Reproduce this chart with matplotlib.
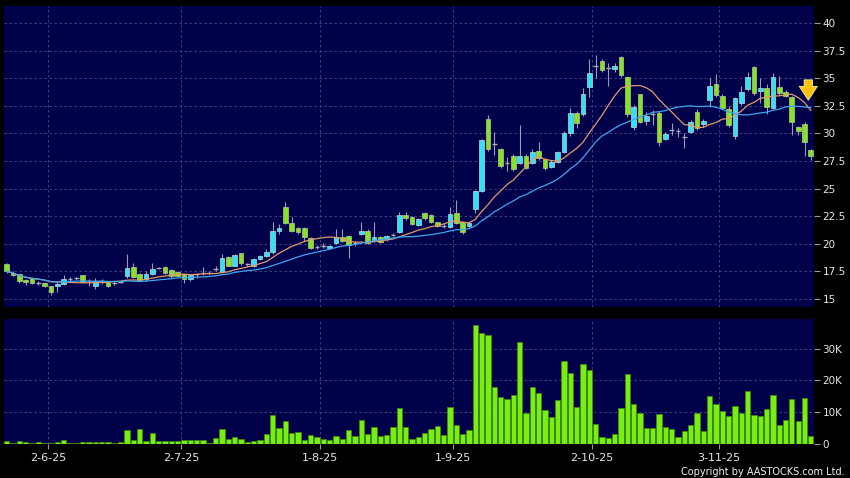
import numpy as np
import pandas as pd
import matplotlib
matplotlib.use("Agg")
import matplotlib.pyplot as plt

# daily OHLC (HK$), oldest first
opens = [18.2, 17.4, 17.26, 16.75, 16.9, 16.45, 16.42, 16.15, 16.2, 16.35,
         16.8, 16.9, 17.17, 16.6, 16.2, 16.65, 16.5, 16.45, 16.55, 17.09,
         17.87, 17.24, 16.78, 17.24, 17.78, 17.87, 17.63, 17.48, 17.24, 16.81,
         17.24, 17.39, 17.39, 17.69, 17.42, 18.78, 18.02, 19.14, 18.14, 18.02,
         18.59, 18.89, 19.23, 21.16, 23.31, 21.86, 21.4, 21.4, 20.55, 19.68,
         19.83, 19.59, 20.1, 20.64, 20.73, 20.04, 20.86, 21.2, 20.28, 20.59,
         20.4, 20.8, 21.1, 22.61, 22.46, 21.71, 22.76, 22.61, 21.95, 21.64,
         21.52, 22.83, 22.0, 21.6, 23.12, 24.78, 31.35, 29.0, 28.6, 27.35,
         27.98, 27.3, 28.0, 27.3, 28.44, 27.68, 27.0, 27.45, 28.29, 30.01,
         31.88, 31.76, 34.2, 36.1, 36.56, 35.9, 35.8, 36.95, 35.08, 30.6,
         33.54, 31.12, 31.8, 31.82, 29.52, 30.31, 30.25, 29.64, 30.1, 31.91,
         30.82, 33.03, 34.44, 33.42, 32.18, 29.8, 32.73, 33.99, 35.99, 33.87,
         34.14, 32.33, 34.23, 33.72, 33.27, 30.55, 30.85, 28.5]
highs = [18.3, 17.5, 17.3, 16.8, 16.95, 16.65, 16.5, 16.2, 16.6, 17.2,
         17.0, 17.0, 17.2, 16.85, 16.95, 16.8, 16.6, 16.6, 16.7, 19.08,
         18.3, 17.4, 17.5, 18.23, 17.9, 18.0, 17.7, 17.55, 17.3, 17.25,
         17.4, 17.9, 17.5, 18.0, 19.1, 18.9, 19.1, 19.2, 18.3, 18.7,
         18.95, 19.5, 22.0, 21.8, 23.76, 22.4, 21.5, 21.5, 20.6, 19.85,
         20.1, 19.9, 21.34, 21.3, 20.8, 20.3, 21.99, 21.3, 22.0, 20.7,
         20.8, 21.0, 22.9, 22.9, 22.5, 22.3, 22.9, 22.7, 22.0, 21.9,
         23.36, 23.97, 22.1, 21.9, 24.9, 29.5, 31.66, 30.1, 28.7, 27.9,
         28.1, 30.76, 28.1, 28.6, 29.25, 27.8, 27.6, 28.4, 30.2, 32.3,
         32.0, 34.1, 36.7, 37.1, 36.7, 36.4, 36.4, 37.0, 35.2, 32.6,
         33.6, 31.9, 32.1, 32.0, 30.1, 30.9, 30.5, 30.0, 31.2, 32.2,
         31.3, 35.0, 35.4, 33.6, 32.5, 33.3, 34.3, 35.6, 36.1, 35.0,
         34.5, 35.5, 35.2, 33.9, 33.4, 30.7, 31.0, 28.6]
lows = [17.4, 17.1, 16.45, 16.3, 16.4, 16.25, 16.1, 15.4, 15.6, 16.3,
        16.5, 16.7, 16.5, 16.15, 15.9, 16.4, 16.1, 16.3, 16.45, 16.95,
        16.9, 16.65, 16.6, 17.2, 17.7, 17.3, 16.9, 17.05, 16.42, 16.6,
        16.9, 17.2, 17.3, 17.5, 17.35, 17.95, 17.95, 18.1, 18.0, 17.9,
        18.5, 18.8, 19.1, 20.9, 21.8, 21.1, 20.9, 20.3, 19.5, 19.55,
        19.6, 19.5, 20.0, 20.2, 18.69, 19.8, 20.8, 20.0, 20.2, 20.1,
        20.3, 20.7, 21.0, 22.2, 21.7, 21.6, 22.2, 21.9, 21.5, 21.4,
        21.4, 21.8, 20.9, 21.5, 22.8, 24.7, 28.4, 28.04, 26.9, 26.6,
        26.6, 27.2, 26.8, 27.2, 27.6, 26.7, 26.9, 27.3, 28.2, 29.8,
        30.5, 31.6, 33.3, 35.0, 35.6, 34.3, 35.6, 35.1, 31.5, 30.3,
        30.9, 30.8, 30.8, 28.9, 29.4, 29.9, 29.7, 28.7, 30.0, 30.3,
        30.6, 32.4, 33.3, 32.2, 30.6, 29.5, 32.6, 33.8, 33.5, 32.8,
        31.8, 32.2, 33.5, 33.3, 29.9, 29.9, 28.0, 27.6]
closes = [17.5, 17.2, 16.66, 16.57, 16.45, 16.45, 16.15, 15.6, 16.4, 16.8,
          16.8, 16.9, 16.57, 16.6, 16.6, 16.65, 16.2, 16.45, 16.55, 17.78,
          16.97, 16.76, 17.24, 17.72, 17.78, 17.33, 17.11, 17.11, 16.81, 17.18,
          17.24, 17.39, 17.39, 17.69, 18.74, 18.02, 18.99, 18.23, 18.14, 18.59,
          18.89, 19.23, 21.16, 21.4, 21.86, 21.2, 21.04, 20.64, 19.59, 19.68,
          19.83, 19.83, 20.64, 20.28, 19.89, 20.04, 21.16, 20.1, 20.59, 20.2,
          20.7, 20.8, 22.61, 22.3, 21.77, 22.25, 22.31, 22.0, 21.6, 21.64,
          22.67, 21.92, 21.04, 21.86, 24.78, 29.37, 28.57, 29.0, 27.05, 27.35,
          26.77, 28.0, 26.9, 28.29, 27.75, 26.9, 27.45, 28.29, 30.01, 31.88,
          30.92, 33.54, 35.45, 36.1, 35.74, 35.9, 36.1, 35.3, 31.8, 32.36,
          31.06, 31.6, 31.8, 29.25, 29.95, 30.31, 30.25, 29.64, 31.06, 30.46,
          31.12, 34.29, 33.48, 32.27, 30.76, 33.18, 33.78, 35.08, 33.63, 34.14,
          32.36, 35.14, 33.69, 33.42, 31.06, 30.25, 29.25, 27.95]
# volume in thousands of shares
volumes = [1.0, 0.4, 1.0, 0.6, 0.4, 0.5, 0.4, 0.2, 0.5, 1.3,
           0.4, 0.4, 0.7, 0.7, 0.7, 0.5, 0.7, 0.4, 0.7, 4.5,
           1.4, 4.8, 0.9, 3.6, 1.0, 1.0, 1.0, 1.0, 1.3, 1.3,
           1.3, 1.3, 0.4, 1.8, 4.7, 1.6, 2.1, 1.7, 0.7, 0.9,
           1.2, 3.1, 9.2, 4.9, 7.1, 3.6, 3.9, 1.2, 2.9, 2.1,
           1.7, 1.2, 2.6, 1.6, 4.3, 2.6, 7.4, 3.2, 5.3, 2.6,
           2.8, 5.5, 11.2, 5.4, 1.6, 2.3, 3.5, 4.8, 5.8, 2.8,
           11.5, 5.9, 3.2, 4.3, 37.4, 35.0, 34.3, 18.0, 14.8, 14.0,
           15.4, 32.2, 9.6, 17.9, 16.0, 10.6, 8.4, 13.7, 26.2, 22.4,
           11.6, 25.2, 23.3, 6.2, 2.1, 1.8, 3.3, 11.4, 22.0, 12.5,
           9.9, 4.9, 4.9, 9.3, 5.5, 4.8, 2.3, 4.2, 6.1, 9.8,
           4.2, 15.0, 12.5, 10.5, 8.7, 11.9, 9.8, 16.6, 9.2, 8.7,
           11.1, 15.3, 6.1, 7.5, 14.0, 7.1, 14.4, 2.4]

date_ticks = [6.55, 27.55, 49.55, 70.5, 92.45, 112.5]
date_labels = ["2-6-25", "2-7-25", "1-8-25", "1-9-25", "2-10-25", "3-11-25"]
price_ticks = [15, 17.5, 20, 22.5, 25, 27.5, 30, 32.5, 35, 37.5, 40]
vol_ticks = [0, 10, 20, 30]
vol_labels = ["0", "10K", "20K", "30K"]

bg = "#00004a"
grid_col = "#4a4a86"
up_col = "#33e2f2"
down_col = "#84e424"

o = np.array(opens)
h = np.array(highs)
l = np.array(lows)
c = np.array(closes)
x = np.arange(len(c))
up = c > o
down = c < o
doji = c == o

fig = plt.figure(figsize=(8.5, 4.78), dpi=100, facecolor="black")
ax = fig.add_axes([4 / 850, 1 - 307 / 478, 810 / 850, 301 / 478])
axv = fig.add_axes([4 / 850, 1 - 444 / 478, 810 / 850, 125 / 478], sharex=ax)

for a in (ax, axv):
    a.set_facecolor(bg)
    for s in a.spines.values():
        s.set_visible(False)
    a.yaxis.tick_right()
    a.grid(True, color=grid_col, ls=(0, (3, 3)), lw=0.6)
    a.set_axisbelow(True)
    a.tick_params(axis="y", colors="#9a9a9a", labelcolor="#e6e6e6", length=4,
                  width=0.8, pad=2, labelsize=7.5)

# candles
ax.vlines(x, l, h, color="#9c9cae", lw=0.8, zorder=2)
w = 0.74
ax.bar(x[up], (c - o)[up], bottom=o[up], width=w, color=up_col,
       edgecolor="#b8d8e0", lw=0.5, zorder=3)
ax.bar(x[down], (o - c)[down], bottom=c[down], width=w, color=down_col,
       edgecolor="#b6c896", lw=0.5, zorder=3)
ax.hlines(c[doji], x[doji] - w / 2, x[doji] + w / 2, color="#a8a8b8", lw=1.0, zorder=3)

# moving averages
s = pd.Series(c)
ax.plot(x, s.rolling(10, min_periods=1).mean(), color="#e39a68", lw=0.9, zorder=4)
ax.plot(x, s.rolling(20, min_periods=1).mean(), color="#3ea6ee", lw=0.9, zorder=4)

ax.annotate("", xy=(126.6, 32.75), xytext=(126.6, 35.1),
            arrowprops=dict(arrowstyle="simple,head_length=1.0,head_width=1.3,tail_width=0.6",
                            fc="#ffc20a", ec="#fff2a8", lw=0.6), zorder=6)

ax.set_ylim(14.28, 41.54)
ax.set_yticks(price_ticks)
ax.set_yticklabels([f"{t:g}" for t in price_ticks])
ax.set_xlim(-0.43, 127.5)
ax.tick_params(axis="x", length=0, labelbottom=False)

# volume
axv.bar(x, volumes, width=0.84, color="#78ee12", edgecolor="#3f8c0a", lw=0.5, zorder=3)
axv.set_ylim(0, 39.3)
axv.set_yticks(vol_ticks)
axv.set_yticklabels(vol_labels)
axv.set_xticks(date_ticks)
axv.set_xticklabels(date_labels)
axv.tick_params(axis="x", colors="#9a9a9a", labelcolor="#e6e6e6", length=3.5,
                width=0.8, pad=3, labelsize=8)

fig.text(845 / 850, 1 - 472 / 478, "Copyright by AASTOCKS.com Ltd.", ha="right",
         va="center", color="#f0f0f0", fontsize=7)

fig.savefig("out.png", dpi=100, facecolor="black")
